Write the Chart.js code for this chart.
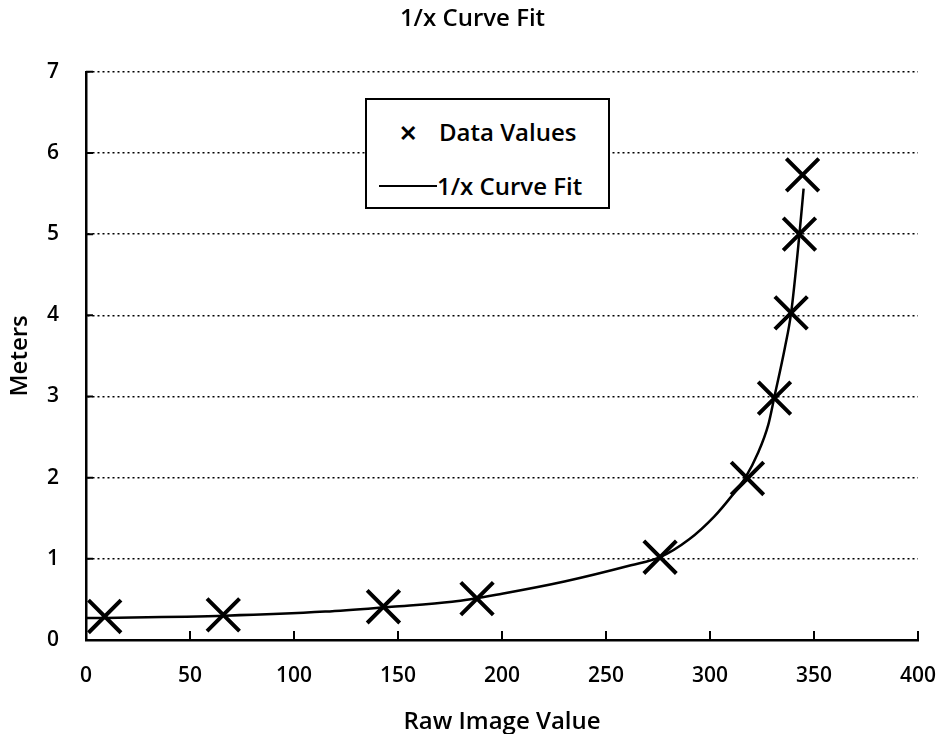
<!DOCTYPE html>
<html>
<head>
<meta charset="utf-8">
<script src="https://cdn.jsdelivr.net/npm/chart.js@4.4.0/dist/chart.umd.min.js"></script>
<style>
  body { margin: 0; background: #fff; }
  #wrap { position: relative; width: 945px; height: 734px; }
  #legend { position: absolute; left: 365px; top: 98px; width: 241px; height: 107px;
    border: 2px solid #000; background: #fff; font-family: 'Open Sans', sans-serif; font-size: 24px; font-weight: 600; color: #000; }
  #legend span { position: absolute; line-height: 30px; white-space: nowrap; }
  #legend .line { height: 2px; width: 58px; background: #000; }
</style>
</head>
<body>
<div id="wrap">
  <canvas id="fit_chart" width="945" height="734"></canvas>
  <div id="legend">
    <span style="left:32px; top:17px; font-size:22px; font-weight:bold;">&#x2715;</span>
    <span style="left:72px; top:17px;">Data Values</span>
    <span class="line" style="left:12px; top:85px;"></span>
    <span style="left:70px; top:71px;">1/x Curve Fit</span>
  </div>
</div>
<script>
// measured points (raw image value -> meters)
let rawValues = [9, 66, 143, 188, 276, 318, 331, 339, 343, 344.5]
let meters = [0.29, 0.31, 0.41, 0.51, 1.02, 1.99, 2.98, 4.03, 5.0, 5.73]
// the fitted 1/x curve
let fitRaw = [0, 67, 115, 147, 176, 200, 230, 262, 276, 290, 302, 310, 317, 323, 328, 331, 336, 339, 343, 345]
let fitMeters = [0.27, 0.30, 0.35, 0.41, 0.47, 0.57, 0.72, 0.92, 1.02, 1.24, 1.52, 1.76, 2.0, 2.3, 2.65, 3.0, 3.6, 4.03, 5.0, 5.56]
// axis ranges
let xMin = 0, xMax = 400, xStep = 50
let yMin = 0, yMax = 7, yStep = 1

Chart.defaults.font.family = "'Open Sans', sans-serif"
Chart.defaults.font.weight = '600'
Chart.defaults.color = '#000'

// short tick marks drawn inside the plot, like the original
const innerTicks = {
  id: 'innerTicks',
  beforeDatasetsDraw(chart) {
    const {ctx, chartArea, scales: {x, y}} = chart
    ctx.save()
    ctx.strokeStyle = '#000'
    ctx.lineWidth = 2
    ctx.beginPath()
    x.ticks.forEach(t => {
      let px = x.getPixelForValue(t.value)
      ctx.moveTo(px, chartArea.bottom)
      ctx.lineTo(px, chartArea.bottom - 9)
    })
    y.ticks.forEach(t => {
      let py = y.getPixelForValue(t.value)
      ctx.moveTo(chartArea.left, py)
      ctx.lineTo(chartArea.left + 7, py)
    })
    ctx.stroke()
    ctx.restore()
  }
}

let points = rawValues.map((v, i) => ({x: v, y: meters[i]}))
let curve = fitRaw.map((v, i) => ({x: v, y: fitMeters[i]}))

let ctx = document.getElementById('fit_chart')
new Chart(ctx, {
  type: 'scatter',
  data: {
    datasets: [{
      label: 'Data Values',
      data: points,
      showLine: false,
      pointStyle: 'crossRot',
      pointRadius: 23,
      pointBorderWidth: 4,
      borderColor: '#000',
      backgroundColor: '#000'
    }, {
      label: '1/x Curve Fit',
      data: curve,
      showLine: true,
      pointRadius: 0,
      borderWidth: 2.5,
      borderColor: '#000',
      cubicInterpolationMode: 'monotone'
    }]
  },
  plugins: [innerTicks],
  options: {
    responsive: false,
    animation: false,
    layout: { padding: { left: 0, right: 0, top: 5, bottom: 0 } },
    plugins: {
      legend: { display: false },
      tooltip: { enabled: false },
      title: {
        display: true,
        text: '1/x Curve Fit',
        font: { size: 24, weight: '600' },
        padding: { top: 0, bottom: 38 }
      }
    },
    scales: {
      x: {
        type: 'linear',
        min: xMin, max: xMax,
        // keep the plot's right edge where the original has it
        afterFit: s => { s.height = 94; s.paddingRight = 25; s.paddingLeft = 0 },
        ticks: { stepSize: xStep, padding: 23, font: { size: 21 } },
        grid: { display: false, drawTicks: false },
        border: { display: true, color: '#000', width: 2.5 },
        title: { display: true, text: 'Raw Image Value', font: { size: 24 }, padding: { top: 0, bottom: -3 } }
      },
      y: {
        min: yMin, max: yMax,
        afterFit: s => { s.width = 86 },
        ticks: { stepSize: yStep, padding: 27, font: { size: 21 } },
        grid: {
          drawTicks: false,
          lineWidth: 1.5,
          color: c => c.tick && c.tick.value === 0 ? 'rgba(0,0,0,0)' : '#000'
        },
        border: { display: true, color: '#000', width: 2.5, dash: [2, 3] },
        title: { display: true, text: 'Meters', font: { size: 24 }, padding: { top: 6, bottom: 0 } }
      }
    }
  }
})
</script>
</body>
</html>
